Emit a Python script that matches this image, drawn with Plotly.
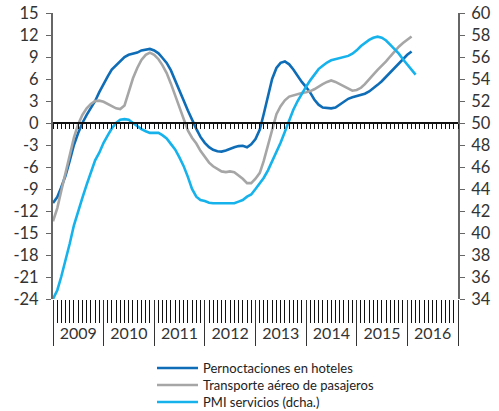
import pandas as pd
import plotly.graph_objects as go

# Monthly series, January 2009 onwards
pernoctaciones = [
    -10.9, -10.1, -8.8, -7.2, -5.2, -3.0, -1.4, 0.0, 1.1, 2.0, 3.0, 4.2,
    5.4, 6.4, 7.3, 7.9, 8.5, 9.0, 9.3, 9.4, 9.6, 9.9, 10.0, 10.1,
    9.9, 9.5, 8.9, 8.2, 7.2, 5.9, 4.5, 3.1, 1.7, 0.4, -0.8, -1.9,
    -2.7, -3.3, -3.65, -3.85, -3.9, -3.75, -3.5, -3.3, -3.15, -3.1, -3.3, -2.9,
    -2.2, -0.9, 1.2, 3.8, 6.0, 7.5, 8.2, 8.4, 8.0, 7.3, 6.4, 5.6,
    4.9, 4.1, 3.2, 2.5, 2.1, 2.0, 2.0, 2.1, 2.5, 3.0, 3.3, 3.5,
    3.65, 3.8, 4.0, 4.3, 4.7, 5.2, 5.7, 6.3, 6.9, 7.5, 8.2, 8.8,
    9.3, 9.75,
]

transporte_aereo = [
    -13.4, -11.6, -9.3, -6.7, -4.3, -2.0, -0.2, 1.1, 2.0, 2.6, 3.0, 3.05,
    2.9, 2.6, 2.3, 2.0, 1.9, 2.4, 4.2, 6.1, 7.5, 8.6, 9.3, 9.6,
    9.3, 8.7, 7.9, 6.8, 5.4, 3.8, 2.2, 0.6, -1.0, -2.0, -2.8, -3.8,
    -4.6, -5.4, -5.9, -6.3, -6.6, -6.7, -6.6, -6.7, -7.1, -7.6, -8.2, -8.2,
    -7.6, -6.8, -5.2, -3.0, -0.8, 1.2, 2.3, 3.1, 3.6, 3.8, 4.0, 4.1,
    4.2, 4.35, 4.6, 5.0, 5.3, 5.6, 5.8, 5.6, 5.3, 4.9, 4.6, 4.4,
    4.5, 4.8, 5.3, 5.9, 6.6, 7.25, 7.8, 8.4, 9.1, 9.75, 10.4, 10.9,
    11.4, 11.8,
]

pmi_servicios = [
    34.0, 34.8, 36.0, 37.4, 39.0, 40.7, 42.0, 43.2, 44.4, 45.5, 46.6, 47.3,
    48.2, 48.9, 49.5, 50.0, 50.3, 50.35, 50.3, 50.0, 49.7, 49.45, 49.25, 49.1,
    49.1, 49.1, 48.9, 48.6, 48.1, 47.6, 46.9, 46.1, 45.1, 44.0, 43.3, 43.0,
    42.9, 42.75, 42.7, 42.7, 42.7, 42.7, 42.7, 42.7, 42.85, 43.0, 43.3, 43.5,
    44.0, 44.5, 45.0, 45.7, 46.5, 47.4, 48.2, 49.2, 50.3, 51.2, 52.0, 52.7,
    53.3, 53.9, 54.4, 54.9, 55.2, 55.5, 55.7, 55.8, 55.9, 56.0, 56.1, 56.3,
    56.6, 57.0, 57.3, 57.55, 57.75, 57.85, 57.75, 57.5, 57.1, 56.7, 56.3, 55.8,
    55.3, 54.8, 54.4,
]

months = pd.date_range("2009-01-01", periods=len(pmi_servicios), freq="MS")

left_ticks = list(range(-24, 16, 3))
right_ticks = list(range(34, 61, 2))
x_range = ["2009-01-01", "2017-01-01"]

FONT = "Lato"
TXT = "#333333"
AXIS = "#666666"
W, H = 499, 411
ML, MR, MT, MB = 53, 41, 13, 112
PW, PH = W - ML - MR, H - MT - MB

series = [
    ("Pernoctaciones en hoteles", pernoctaciones, "#0e6db6", "y", "legend"),
    ("Transporte aéreo de pasajeros", transporte_aereo, "#a6a6a6", "y", "legend2"),
    ("PMI servicios (dcha.)", pmi_servicios, "#15b2ec", "y2", "legend3"),
]

fig = go.Figure()
for name, vals, color, yax, leg in series:
    fig.add_trace(go.Scatter(
        x=months[:len(vals)], y=vals, mode="lines", name=name,
        line=dict(color=color, width=2.6), xaxis="x", yaxis=yax, legend=leg))

# empty traces so the decorative overlay x-axes get drawn
for xa in ("x2", "x3", "x4"):
    fig.add_trace(go.Scatter(x=[months[0]], y=[None], mode="lines",
                             xaxis=xa, yaxis="y", showlegend=False,
                             hoverinfo="skip"))

common_x = dict(type="date", range=x_range, showgrid=False, zeroline=False,
                tick0="2009-01-01", fixedrange=True, automargin=False)


def legend_row(y_px):
    # one legend per row, placed in paper coordinates below the plot
    return dict(orientation="v", xref="paper", yref="paper",
                x=(152 - ML) / PW, y=(MT + PH - y_px) / PH,
                xanchor="left", yanchor="middle",
                font=dict(family=FONT, size=13, color="#222222"),
                bgcolor="rgba(0,0,0,0)", itemwidth=41)


fig.update_layout(
    width=W, height=H, autosize=False,
    margin=dict(l=ML, r=MR, t=MT, b=MB, autoexpand=False),
    paper_bgcolor="white", plot_bgcolor="white",
    font=dict(family=FONT, color=TXT),
    showlegend=True,
    legend=legend_row(368),
    legend2=legend_row(385),
    legend3=legend_row(402),
    # monthly ticks under the plot
    xaxis=dict(**common_x, dtick="M1", ticks="outside", ticklen=23, tickwidth=1,
               tickcolor="#111111", showticklabels=False, showline=False),
    # year separators
    xaxis2=dict(**common_x, overlaying="x", anchor="y", dtick="M12", ticks="outside",
                ticklen=46, tickwidth=1.3, tickcolor="#333333",
                showticklabels=False, showline=False),
    # year labels centred on each year
    xaxis3=dict(**common_x, overlaying="x", anchor="y", dtick="M12", tickformat="%Y",
                ticklabelmode="period", ticks="outside", ticklen=20,
                tickcolor="rgba(0,0,0,0)", showline=False,
                tickfont=dict(family=FONT, size=16, color=TXT)),
    # zero line with small monthly ticks
    xaxis4=dict(**common_x, overlaying="x", anchor="free", position=24 / 39,
                dtick="M1", ticks="outside", ticklen=5, tickwidth=1,
                tickcolor="#111111", showline=True, linecolor="#111111",
                linewidth=2, showticklabels=False),
    yaxis=dict(range=[-24, 15], tickvals=left_ticks,
               ticktext=[str(v) for v in left_ticks],
               showgrid=False, zeroline=False, showline=True, linecolor=AXIS,
               linewidth=2, ticks="outside", ticklen=5, tickcolor=AXIS,
               ticklabelstandoff=4, automargin=False,
               tickfont=dict(family=FONT, size=16.5, color=TXT), fixedrange=True),
    yaxis2=dict(range=[34, 60], tickvals=right_ticks,
                ticktext=[str(v) for v in right_ticks], overlaying="y",
                side="right", anchor="x", automargin=False,
                showgrid=False, zeroline=False, showline=True, linecolor=AXIS,
                linewidth=2, ticks="outside", ticklen=5, tickcolor=AXIS,
                ticklabelstandoff=3,
                tickfont=dict(family=FONT, size=16.5, color=TXT), fixedrange=True),
)

fig.write_html("out.html")
